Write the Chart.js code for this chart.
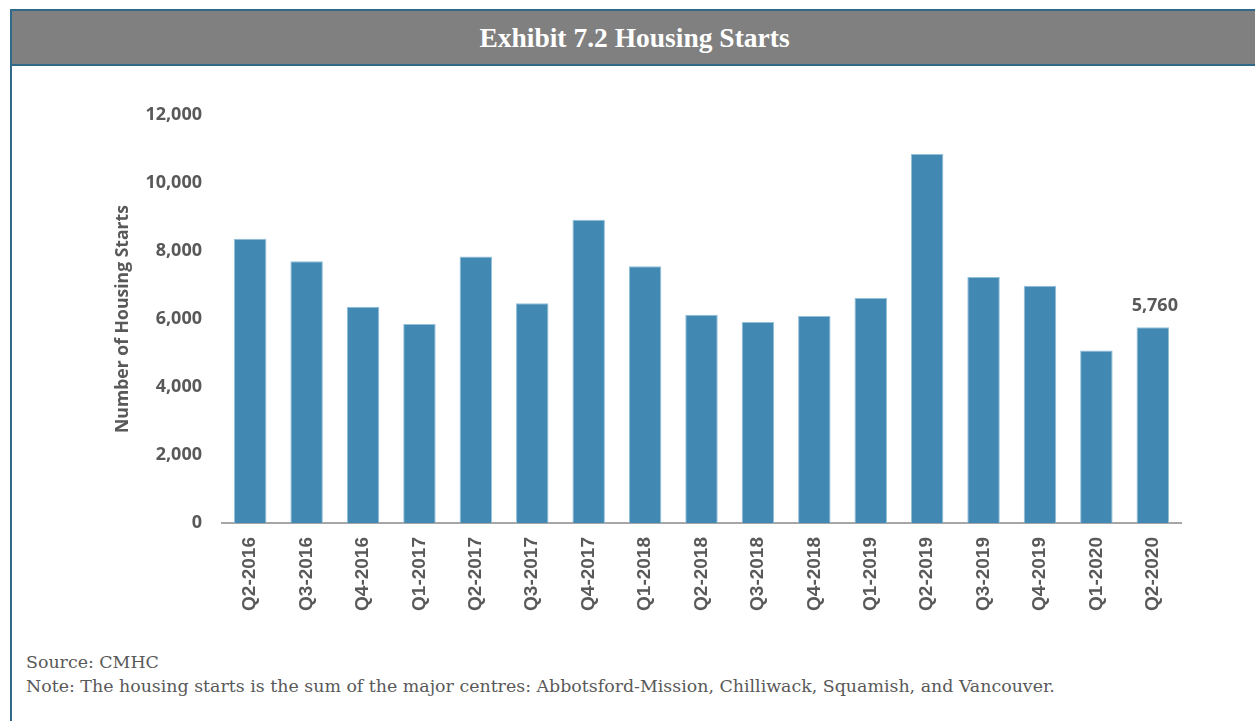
<!DOCTYPE html>
<html>
<head>
<meta charset="utf-8">
<script src="https://cdn.jsdelivr.net/npm/chart.js@4.4.1/dist/chart.umd.min.js"></script>
<style>
  html, body { margin: 0; padding: 0; background: #ffffff; }
  body { width: 1255px; height: 721px; position: relative; overflow: hidden; }
  #frame { position: absolute; left: 10px; top: 9px; width: 1260px; height: 720px;
           border-left: 2px solid #31698a; border-top: 2px solid #31698a; }
  #titlebar { position: absolute; left: 12px; top: 11px; width: 1245px; height: 53px;
              background: #808080; border-bottom: 2px solid #31698a;
              display: flex; align-items: center; justify-content: center;
              font-family: "Liberation Serif", serif; font-weight: bold; font-size: 27.5px;
              color: #ffffff; }
  #wrap { position: absolute; left: 12px; top: 66px; width: 1243px; height: 570px; }
  .foot { position: absolute; left: 26px; font-family: "DejaVu Serif", serif;
          font-size: 17.4px; line-height: 24px; color: #595959; white-space: nowrap; }
</style>
</head>
<body>
<div id="frame"></div>
<div id="titlebar">Exhibit 7.2 Housing Starts</div>
<div id="wrap"><canvas id="c" width="1243" height="570"></canvas></div>
<div class="foot" style="top:650px">Source: CMHC</div>
<div class="foot" style="top:674px">Note: The housing starts is the sum of the major centres: Abbotsford-Mission, Chilliwack, Squamish, and Vancouver.</div>
<script>
const categories = ["Q2-2016","Q3-2016","Q4-2016","Q1-2017","Q2-2017","Q3-2017","Q4-2017","Q1-2018","Q2-2018","Q3-2018","Q4-2018","Q1-2019","Q2-2019","Q3-2019","Q4-2019","Q1-2020","Q2-2020"];
const housingStarts = [8360, 7700, 6360, 5850, 7840, 6460, 8920, 7550, 6125, 5910, 6090, 6620, 10850, 7235, 6980, 5070, 5760];
const yTicks = [0, 2000, 4000, 6000, 8000, 10000, 12000];
const labelledIndex = [16];

const fmt = v => Number(v).toLocaleString('en-US');

const lastLabel = {
  id: 'lastLabel',
  afterDatasetsDraw(chart) {
    const ctx = chart.ctx;
    const meta = chart.getDatasetMeta(0);
    ctx.save();
    ctx.font = 'bold 18px "Open Sans"';
    ctx.fillStyle = '#595959';
    ctx.textAlign = 'center';
    ctx.textBaseline = 'alphabetic';
    labelledIndex.forEach(i => {
      const el = meta.data[i];
      ctx.fillText(fmt(housingStarts[i]), el.x + 2, el.y - 16);
    });
    ctx.restore();
  }
};

new Chart(document.getElementById('c'), {
  type: 'bar',
  data: {
    labels: categories,
    datasets: [{
      data: housingStarts,
      backgroundColor: '#4189b3',
      borderColor: '#94bfd9',
      borderWidth: 1,
      categoryPercentage: 1,
      barPercentage: 0.576
    }]
  },
  options: {
    responsive: false,
    animation: false,
    events: [],
    layout: { padding: { top: 49, right: 74, left: 0, bottom: 0 } },
    plugins: { legend: { display: false }, tooltip: { enabled: false } },
    scales: {
      x: {
        grid: { display: false, drawTicks: false },
        border: { display: true, color: '#a6a6a6', width: 2 },
        ticks: {
          color: '#595959', font: { family: 'Liberation Sans', weight: 'bold', size: 19 },
          maxRotation: 90, minRotation: 90, padding: 14, autoSkip: false
        },
        afterFit(scale) { scale.height = 113; }
      },
      y: {
        min: 0, max: 12000,
        grid: { display: false, drawTicks: false },
        border: { display: false },
        afterBuildTicks(scale) { scale.ticks = yTicks.map(v => ({ value: v })); },
        ticks: {
          color: '#595959', font: { family: 'Open Sans', weight: 'bold', size: 18 },
          padding: 20, callback: v => fmt(v)
        },
        title: {
          display: true, text: 'Number of Housing Starts', color: '#595959',
          font: { family: 'Open Sans', weight: 'bold', size: 17.6 },
          padding: { top: 100, bottom: 0 }
        },
        afterFit(scale) { scale.width = 210; }
      }
    }
  },
  plugins: [lastLabel]
});
</script>
</body>
</html>
